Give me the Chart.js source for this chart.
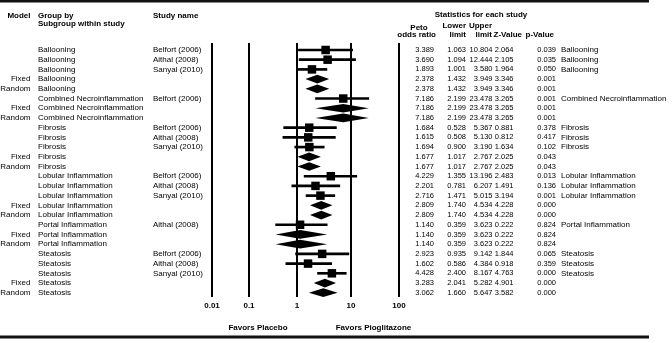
<!DOCTYPE html>
<html>
<head>
<meta charset="utf-8">
<script src="https://cdn.jsdelivr.net/npm/chart.js@4/dist/chart.umd.min.js"></script>
<style>
  html, body { margin: 0; padding: 0; background: #fff; }
  #wrap { width: 672px; height: 343px; position: relative; }
</style>
</head>
<body>
<div id="wrap"><canvas id="forest"></canvas></div>
<script>
const models = ["", "", "", "Fixed", "Random",
    "", "Fixed", "Random",
    "", "", "", "Fixed", "Random",
    "", "", "", "Fixed", "Random",
    "", "Fixed", "Random",
    "", "", "", "Fixed", "Random"];

const groups = ["Ballooning", "Ballooning", "Ballooning", "Ballooning", "Ballooning",
    "Combined Necroinflammation", "Combined Necroinflammation", "Combined Necroinflammation",
    "Fibrosis", "Fibrosis", "Fibrosis", "Fibrosis", "Fibrosis",
    "Lobular Inflammation", "Lobular Inflammation", "Lobular Inflammation", "Lobular Inflammation", "Lobular Inflammation",
    "Portal Inflammation", "Portal Inflammation", "Portal Inflammation",
    "Steatosis", "Steatosis", "Steatosis", "Steatosis", "Steatosis"];

const studies = ["Belfort (2006)", "Aithal (2008)", "Sanyal (2010)", "", "",
    "Belfort (2006)", "", "",
    "Belfort (2006)", "Aithal (2008)", "Sanyal (2010)", "", "",
    "Belfort (2006)", "Aithal (2008)", "Sanyal (2010)", "", "",
    "Aithal (2008)", "", "",
    "Belfort (2006)", "Aithal (2008)", "Sanyal (2010)", "", ""];

const oddsRatio = [3.389, 3.690, 1.893, 2.378, 2.378,
    7.186, 7.186, 7.186,
    1.684, 1.615, 1.694, 1.677, 1.677,
    4.229, 2.201, 2.716, 2.809, 2.809,
    1.140, 1.140, 1.140,
    2.923, 1.602, 4.428, 3.283, 3.062];

const lowerLimit = [1.063, 1.094, 1.001, 1.432, 1.432,
    2.199, 2.199, 2.199,
    0.528, 0.508, 0.900, 1.017, 1.017,
    1.355, 0.781, 1.471, 1.740, 1.740,
    0.359, 0.359, 0.359,
    0.935, 0.586, 2.400, 2.041, 1.660];

const upperLimit = [10.804, 12.444, 3.580, 3.949, 3.949,
    23.478, 23.478, 23.478,
    5.367, 5.130, 3.190, 2.767, 2.767,
    13.196, 6.207, 5.015, 4.534, 4.534,
    3.623, 3.623, 3.623,
    9.142, 4.384, 8.167, 5.282, 5.647];

const zValue = [2.064, 2.105, 1.964, 3.346, 3.346,
    3.265, 3.265, 3.265,
    0.881, 0.812, 1.634, 2.025, 2.025,
    2.483, 1.491, 3.194, 4.228, 4.228,
    0.222, 0.222, 0.222,
    1.844, 0.918, 4.763, 4.901, 3.582];

const pValue = [0.039, 0.035, 0.050, 0.001, 0.001,
    0.001, 0.001, 0.001,
    0.378, 0.417, 0.102, 0.043, 0.043,
    0.013, 0.136, 0.001, 0.000, 0.000,
    0.824, 0.824, 0.824,
    0.065, 0.359, 0.000, 0.000, 0.000];

const tickValues = [0.01, 0.1, 1, 10, 100];
const tickLabels = ["0.01", "0.1", "1", "10", "100"];

const FONT = "'Liberation Sans', Arial, sans-serif";
const rows = oddsRatio.map((_, i) => i);
const studyRows = rows.filter(i => models[i] === "");
const summaryRows = rows.filter(i => models[i] !== "");

// relative width of each decade on the axis (0.01-0.1, 0.1-1, 1-10, 10-100)
const decadeWeights = [37, 48, 54, 48];

class DecadeScale extends Chart.LogarithmicScale {
    buildTicks() {
        this.start = this.min;
        this.end = this.max;
        return tickValues.map(v => ({ value: v }));
    }
    getPixelForValue(value) {
        if (value === null || value === undefined || isNaN(value)) return NaN;
        const total = decadeWeights.reduce((a, b) => a + b, 0);
        let pos = Math.log10(value) - Math.log10(tickValues[0]);
        let acc = 0;
        let i = 0;
        while (i < decadeWeights.length - 1 && pos > 1) {
            acc += decadeWeights[i];
            pos -= 1;
            i++;
        }
        return this.getPixelForDecimal((acc + pos * decadeWeights[i]) / total);
    }
    getValueForPixel(pixel) {
        const total = decadeWeights.reduce((a, b) => a + b, 0);
        let d = this.getDecimalForPixel(pixel) * total;
        let i = 0;
        while (i < decadeWeights.length - 1 && d > decadeWeights[i]) {
            d -= decadeWeights[i];
            i++;
        }
        return tickValues[0] * Math.pow(10, i + d / decadeWeights[i]);
    }
}
DecadeScale.id = "decade";
DecadeScale.defaults = Chart.LogarithmicScale.defaults;
Chart.register(DecadeScale);

// summary estimates drawn as diamonds
const diamondPlugin = {
    id: "diamonds",
    afterDatasetsDraw(chart) {
        const { ctx, scales: { x, y } } = chart;
        ctx.save();
        ctx.fillStyle = "#000";
        summaryRows.forEach(i => {
            const yc = y.getPixelForValue(i);
            const h = Math.abs(y.getPixelForValue(i + 0.45) - yc);
            ctx.beginPath();
            ctx.moveTo(x.getPixelForValue(lowerLimit[i]), yc);
            ctx.lineTo(x.getPixelForValue(oddsRatio[i]), yc - h);
            ctx.lineTo(x.getPixelForValue(upperLimit[i]), yc);
            ctx.lineTo(x.getPixelForValue(oddsRatio[i]), yc + h);
            ctx.closePath();
            ctx.fill();
        });
        ctx.restore();
    }
};

// table columns, headers and rules around the plot
const tablePlugin = {
    id: "table",
    afterDraw(chart) {
        const { ctx, scales: { y } } = chart;
        ctx.save();
        ctx.fillStyle = "#000";
        ctx.textBaseline = "middle";

        const txt = (s, px, py, align, bold, size) => {
            ctx.font = `${bold ? "bold " : ""}${size || 8}px ${FONT}`;
            ctx.textAlign = align;
            ctx.fillText(s, px, py);
        };

        // headers
        txt("Model", 30.5, 15.5, "right", true);
        txt("Group by", 38, 15.5, "left", true);
        txt("Subgroup within study", 38, 24, "left", true);
        txt("Study name", 153, 15.5, "left", true);
        txt("Statistics for each study", 481, 15, "center", true);
        txt("Peto", 419, 27.5, "center", true);
        txt("Lower", 466, 25.5, "right", true);
        txt("Upper", 492, 25.5, "right", true);
        txt("odds ratio", 436, 34.5, "right", true);
        txt("limit", 466, 34.5, "right", true);
        txt("limit", 492, 34.5, "right", true);
        txt("Z-Value", 522, 34.5, "right", true);
        txt("p-Value", 554, 34.5, "right", true);

        const colRight = [434, 466, 492.5, 513.5, 556];
        rows.forEach(i => {
            const py = y.getPixelForValue(i);
            if (models[i]) txt(models[i], 30.5, py, "right", false);
            txt(groups[i], 38, py, "left", false);
            if (studies[i]) txt(studies[i], 153, py, "left", false);
            [oddsRatio[i], lowerLimit[i], upperLimit[i], zValue[i], pValue[i]].forEach((v, c) => {
                txt(v.toFixed(3), colRight[c], py, "right", false, 7.5);
            });
            if (models[i] === "") txt(groups[i], 561, py, "left", false);
        });

        txt("Favors Placebo", 258, 328, "center", true);
        txt("Favors Pioglitazone", 373.5, 328, "center", true);

        ctx.fillStyle = "#111";
        ctx.fillRect(0, 0, 649, 2.5);
        ctx.fillRect(0, 335.5, 649, 3);
        ctx.restore();
    }
};

new Chart(document.getElementById("forest"), {
    type: "bar",
    data: {
        datasets: [
            {
                type: "bar",
                data: studyRows.map(i => ({ y: i, x: [lowerLimit[i], upperLimit[i]] })),
                backgroundColor: "#000",
                borderWidth: 0,
                barThickness: 2
            },
            {
                type: "scatter",
                data: studyRows.map(i => ({ x: oddsRatio[i], y: i })),
                pointStyle: "rect",
                pointRadius: 6,
                backgroundColor: "#000",
                borderWidth: 0
            }
        ]
    },
    options: {
        indexAxis: "y",
        responsive: true,
        maintainAspectRatio: false,
        animation: false,
        layout: { padding: { left: 212, right: 273, top: 43, bottom: 28.4 } },
        plugins: { legend: { display: false }, tooltip: { enabled: false } },
        scales: {
            x: {
                type: "decade",
                min: 0.01,
                max: 100,
                offset: false,
                border: { display: false },
                grid: { offset: false, color: "#000", lineWidth: 2, drawTicks: false },
                ticks: {
                    autoSkip: false,
                    maxRotation: 0,
                    padding: 4,
                    color: "#000",
                    font: { family: FONT, size: 8, weight: "bold" },
                    callback: (v, i) => tickLabels[i]
                }
            },
            y: {
                type: "linear",
                reverse: true,
                min: -0.72,
                max: 25.44,
                offset: false,
                display: false
            }
        }
    },
    plugins: [diamondPlugin, tablePlugin]
});
</script>
</body>
</html>
